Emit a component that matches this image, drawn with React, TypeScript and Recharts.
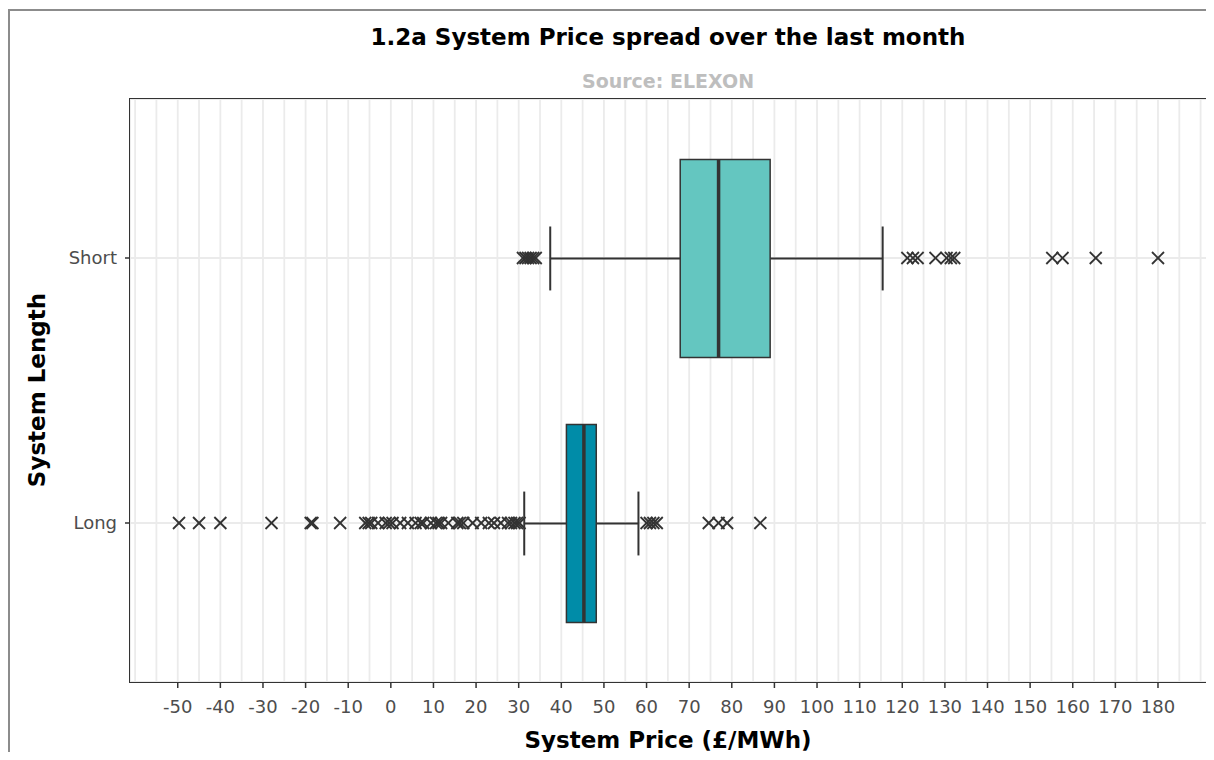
import React from 'react'
import { ComposedChart, Bar, Scatter, XAxis, YAxis, CartesianGrid } from 'recharts'

// box statistics, one entry per category (top to bottom)
const categories = ['Short', 'Long']
const whiskerLow = [37.4, 31.3]
const q1 = [67.9, 41.2]
const median = [76.9, 45.3]
const q3 = [89.0, 48.2]
const whiskerHigh = [115.4, 58.1]

// outliers
const shortOutliers = [
  31.0, 31.6, 32.2, 32.8, 33.4, 34.0, 121.2, 122.5, 123.6, 127.8, 130.4, 131.4, 132.2, 155.2, 157.6,
  165.4, 180.0,
]
const longOutliers = [
  -49.7, -45.0, -40.0, -28.0, -18.8, -18.4, -11.9, -6.0, -5.2, -4.6, -3.0, -1.2, -0.4, 0.4, 2.2, 4.0,
  5.8, 7.0, 7.6, 9.4, 10.6, 11.2, 11.8, 13.5, 15.6, 16.2, 17.0, 19.2, 21.2, 23.0, 24.2, 25.8, 27.5,
  28.2, 29.0, 29.6, 30.2, 60.0, 60.8, 61.6, 62.4, 74.6, 76.9, 78.9, 86.7,
]

const xTickLabels = [
  -50, -40, -30, -20, -10, 0, 10, 20, 30, 40, 50, 60, 70, 80, 90, 100, 110, 120, 130, 140, 150, 160,
  170, 180,
]
const xDomain: [number, number] = [-61.2, 191.5]

const boxFill: Record<string, string> = { Short: '#64C6C0', Long: '#008CA8' }
const ink = '#333333'
const font = '"DejaVu Sans", Verdana, sans-serif'

// every 5 for the grid, labels only on the tens
const gridTicks: number[] = []
for (let v = -60; v <= 190; v += 5) gridTicks.push(v)

const boxes = categories.map((name, i) => ({
  name,
  range: [whiskerLow[i], whiskerHigh[i]],
  q1: q1[i],
  median: median[i],
  q3: q3[i],
}))

const outliers = [
  ...shortOutliers.map((value) => ({ name: 'Short', value })),
  ...longOutliers.map((value) => ({ name: 'Long', value })),
]

// plot area, in the chart's own pixels
const margin = { top: 91, right: 7, bottom: 40, left: 22 }
const chartW = 1206
const chartH = 744
const yAxisW = 100
const xAxisH = 30

function BoxShape(props: any) {
  const { x, y, width, height, payload } = props
  const [lo, hi] = payload.range
  const px = (v: number) => x + (width * (v - lo)) / (hi - lo)
  const cy = y + height / 2
  const xq1 = px(payload.q1)
  const xq3 = px(payload.q3)
  const xm = px(payload.median)
  const cap = height / 6.2
  return (
    <g>
      <line x1={x} x2={xq1} y1={cy} y2={cy} stroke={ink} strokeWidth={2} />
      <line x1={xq3} x2={x + width} y1={cy} y2={cy} stroke={ink} strokeWidth={2} />
      <line x1={x} x2={x} y1={cy - cap} y2={cy + cap} stroke={ink} strokeWidth={2} />
      <line x1={x + width} x2={x + width} y1={cy - cap} y2={cy + cap} stroke={ink} strokeWidth={2} />
      <rect
        x={xq1}
        y={y}
        width={xq3 - xq1}
        height={height}
        fill={boxFill[payload.name]}
        stroke={ink}
        strokeWidth={1.5}
      />
      <line x1={xm} x2={xm} y1={y} y2={y + height} stroke={ink} strokeWidth={3.5} />
    </g>
  )
}

function CrossMark(props: any) {
  const { cx, cy } = props
  const s = 6
  return (
    <g stroke={ink} strokeWidth={1.8}>
      <line x1={cx - s} y1={cy - s} x2={cx + s} y2={cy + s} />
      <line x1={cx - s} y1={cy + s} x2={cx + s} y2={cy - s} />
    </g>
  )
}

const X_TICK_SIZE = 6
const X_TICK_MARGIN = 12

function XTick(props: any) {
  const { x, y, payload } = props
  if (!xTickLabels.includes(payload.value)) return <g />
  return (
    <g>
      <line
        x1={x}
        x2={x}
        y1={y - X_TICK_SIZE - X_TICK_MARGIN}
        y2={y - X_TICK_MARGIN}
        stroke={ink}
        strokeWidth={1.5}
      />
      <text x={x} y={y} dy="0.71em" textAnchor="middle" fontSize={18} fill="#4D4D4D" fontFamily={font}>
        {payload.value}
      </text>
    </g>
  )
}

export default function App() {
  const plotLeft = margin.left + yAxisW
  const plotTop = margin.top
  const plotW = chartW - plotLeft - margin.right
  const plotH = chartH - margin.top - margin.bottom - xAxisH
  return (
    <div style={{ position: 'relative', width: 1206, height: 744, overflow: 'hidden', fontFamily: font }}>
      <div
        style={{
          position: 'absolute',
          left: 0,
          top: 1,
          width: 1203,
          height: 800,
          border: '2px solid #8c8c8c',
          boxSizing: 'border-box',
        }}
      />
      <ComposedChart
        width={chartW}
        height={chartH}
        data={boxes}
        layout="vertical"
        margin={margin}
        style={{ position: 'absolute', left: 0, top: 0 }}
      >
        <CartesianGrid stroke="#EBEBEB" strokeWidth={1.8} />
        <XAxis
          type="number"
          dataKey="value"
          domain={xDomain}
          allowDataOverflow
          ticks={gridTicks}
          interval={0}
          tickLine={false}
          axisLine={false}
          tickSize={X_TICK_SIZE}
          tickMargin={X_TICK_MARGIN}
          tick={<XTick />}
          height={xAxisH}
        />
        <YAxis
          type="category"
          dataKey="name"
          allowDuplicatedCategory={false}
          width={yAxisW}
          padding={{ top: 26.5, bottom: 26.5 }}
          axisLine={false}
          tickLine={{ stroke: ink, strokeWidth: 1.5 }}
          tickSize={5}
          tickMargin={8}
          tick={{ fontSize: 18, fill: '#4D4D4D', fontFamily: font }}
        />
        <Bar dataKey="range" barSize={198} shape={<BoxShape />} isAnimationActive={false} />
        <Scatter data={outliers} shape={<CrossMark />} isAnimationActive={false} />
      </ComposedChart>

      {/* panel border */}
      <div
        style={{
          position: 'absolute',
          left: plotLeft - 0.75,
          top: plotTop - 0.75,
          width: plotW + 1.5,
          height: plotH + 1.5,
          border: `1.5px solid ${ink}`,
          boxSizing: 'border-box',
          pointerEvents: 'none',
        }}
      />

      <div
        style={{
          position: 'absolute',
          left: 360,
          width: 600,
          top: 16,
          textAlign: 'center',
          fontSize: 23,
          fontWeight: 'bold',
          color: '#000',
        }}
      >
        1.2a System Price spread over the last month
      </div>
      <div
        style={{
          position: 'absolute',
          left: 460,
          width: 400,
          top: 62,
          textAlign: 'center',
          fontSize: 19,
          fontWeight: 'bold',
          color: '#BEBEBE',
        }}
      >
        Source: ELEXON
      </div>
      <div
        style={{
          position: 'absolute',
          left: 460,
          width: 400,
          top: 719,
          textAlign: 'center',
          fontSize: 23,
          fontWeight: 'bold',
          color: '#000',
        }}
      >
        System Price (£/MWh)
      </div>
      <div
        style={{
          position: 'absolute',
          left: 29 - 150,
          width: 300,
          top: 383 - 14,
          textAlign: 'center',
          fontSize: 23,
          fontWeight: 'bold',
          color: '#000',
          transform: 'rotate(-90deg)',
        }}
      >
        System Length
      </div>
    </div>
  )
}
